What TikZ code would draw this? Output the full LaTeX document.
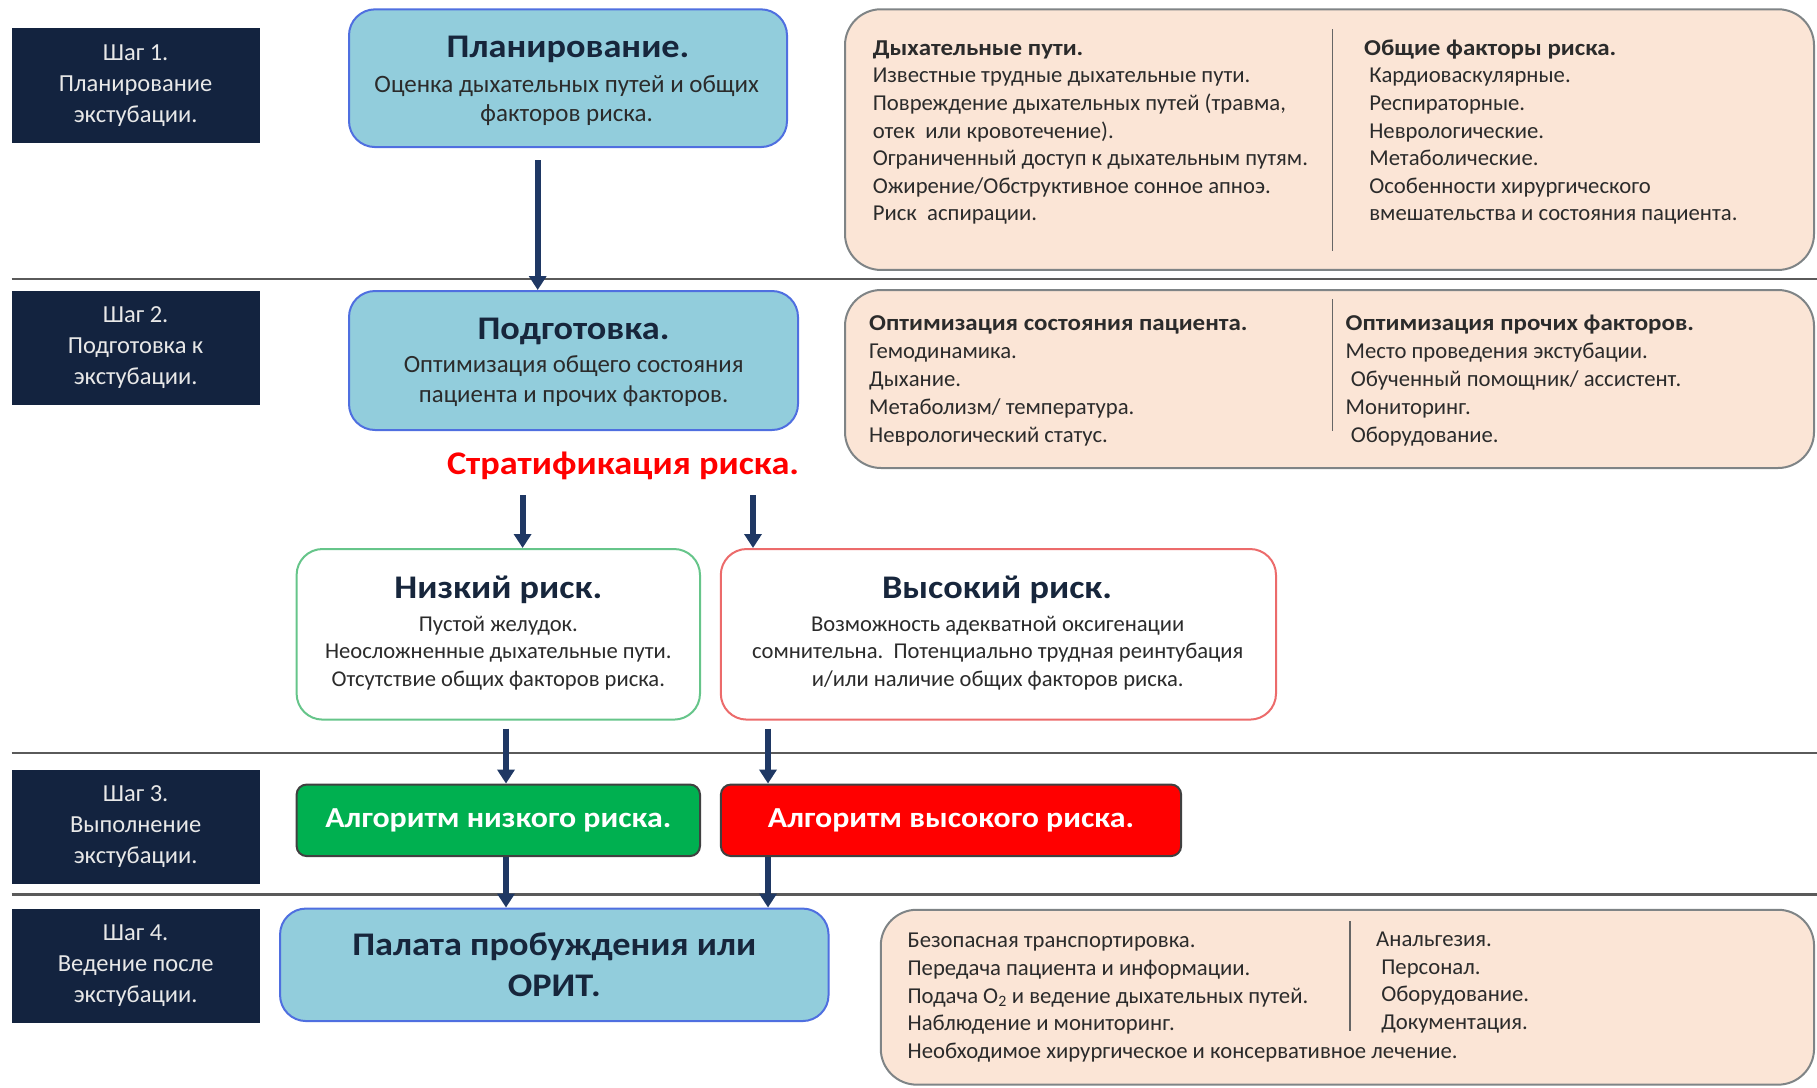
\documentclass[tikz,border=0pt]{standalone}
\usepackage{fontspec}
\setmainfont{Carlito}[BoldFeatures={FakeStretch=1.1}]
\usetikzlibrary{arrows.meta}
\definecolor{navy}{HTML}{13233F}
\definecolor{steptext}{HTML}{E8E8E8}
\definecolor{arrowc}{HTML}{1F3864}
\definecolor{bluefill}{HTML}{92CDDC}
\definecolor{blueborder}{HTML}{4F6FE0}
\definecolor{peach}{HTML}{FBE5D6}
\definecolor{peachborder}{HTML}{7F8486}
\definecolor{greenborder}{HTML}{66C58A}
\definecolor{redborder}{HTML}{EC6B6B}
\definecolor{algogreen}{HTML}{00B050}
\definecolor{algored}{HTML}{FF0000}
\definecolor{bodytext}{HTML}{2B2B2B}
\definecolor{titletext}{HTML}{17263C}
\definecolor{sepline}{HTML}{5A5A5A}
\begin{document}
\begin{tikzpicture}[x=1pt,y=-1pt,
  stepbox/.style={fill=navy, minimum width=248pt, minimum height=114.5pt, inner sep=0pt,
    text=steptext, align=center, font=\fontsize{24.5}{31}\selectfont},
  bluebox/.style={fill=bluefill, draw=blueborder, line width=2pt, rounded corners=26pt, inner sep=0pt},
  peachbox/.style={fill=peach, draw=peachborder, line width=2pt, rounded corners=36pt, inner sep=0pt},
  riskbox/.style={fill=white, line width=2pt, rounded corners=26pt, inner sep=0pt},
  algobox/.style={draw=black!75, line width=2pt, rounded corners=10pt, inner sep=0pt,
    text=white, font=\bfseries\fontsize{29}{34}\selectfont},
  bigtitle/.style={anchor=base, inner sep=0pt, text=titletext, font=\bfseries\fontsize{33}{40}\selectfont},
  subtext/.style={anchor=base, inner sep=0pt, text=bodytext, align=center},
  coltext/.style={anchor=base west, inner sep=0pt, text=bodytext, align=left},
  divline/.style={draw=black!60, line width=1.5pt},
  sepl/.style={draw=sepline, line width=2.5pt},
  arr/.style={draw=arrowc, line width=6pt, -{Triangle[width=17pt,length=14pt]}}
]
\useasboundingbox (0,0) rectangle (1817,1087);
\begin{scope}
\clip (0,0) rectangle (1817,1087);

% separator lines
\draw[sepl] (11.6,279) -- (1817,279);
\draw[sepl] (11.6,753) -- (1817,753);
\draw[sepl] (11.6,894.6) -- (1817,894.6);

% step boxes
\node[stepbox] (s1) at (135.6,85.5) {Шаг 1.\\Планирование\\экстубации.};
\node[stepbox] (s2) at (135.6,348) {Шаг 2.\\Подготовка к\\экстубации.};
\node[stepbox] (s3) at (135.6,827) {Шаг 3.\\Выполнение\\экстубации.};
\node[stepbox] (s4) at (135.6,966) {Шаг 4.\\Ведение после\\экстубации.};

% planning
\node[bluebox, minimum width=438pt, minimum height=137.7pt] (plan) at (568,78.2) {};
\node[bigtitle] (plantitle) at (568,57) {Планирование.};
\node[subtext, font=\fontsize{25}{29}\selectfont] (plansub) at (566.7,121) {Оценка дыхательных путей и общих\\факторов риска.};

% preparation
\node[bluebox, minimum width=449pt, minimum height=139pt] (prep) at (573.5,360.5) {};
\node[bigtitle] (preptitle) at (573.5,339.5) {Подготовка.};
\node[subtext, font=\fontsize{24.8}{30}\selectfont] (prepsub) at (573.6,402.2) {Оптимизация общего состояния\\пациента и прочих факторов.};

% peach box 1
\node[peachbox, minimum width=969pt, minimum height=260.7pt] (pb1) at (1329.5,139.6) {};
\draw[divline] (1332.6,29) -- (1332.6,251);
\node[coltext, font=\fontsize{22.7}{27.6}\selectfont] (pb1l) at (872.6,220.8) {\textbf{Дыхательные пути.}\\Известные трудные дыхательные пути.\\Повреждение дыхательных путей (травма,\\отек\ \ или кровотечение).\\Ограниченный доступ к дыхательным путям.\\Ожирение/Обструктивное сонное апноэ.\\Риск\ \ аспирации.};
\node[coltext, font=\fontsize{22.7}{27.6}\selectfont] (pb1r) at (1364,220.8) {\textbf{Общие факторы риска.}\\\ Кардиоваскулярные.\\\ Респираторные.\\\ Неврологические.\\\ Метаболические.\\\ Особенности хирургического\\\ вмешательства и состояния пациента.};

% peach box 2
\node[peachbox, minimum width=969pt, minimum height=178pt] (pb2) at (1329.5,379) {};
\draw[divline] (1332.6,299) -- (1332.6,431);
\node[coltext, font=\fontsize{22.7}{28}\selectfont] (pb2l) at (869,442.6) {\textbf{Оптимизация состояния пациента.}\\Гемодинамика.\\Дыхание.\\Метаболизм/ температура.\\Неврологический статус.};
\node[coltext, font=\fontsize{22.7}{28}\selectfont] (pb2r) at (1345.5,442.6) {\textbf{Оптимизация прочих факторов.}\\Место проведения экстубации.\\\ Обученный помощник/ ассистент.\\Мониторинг.\\\ Оборудование.};

% stratification
\node[anchor=base, inner sep=0pt, text depth=7pt, text=algored, font=\bfseries\fontsize{33}{38}\selectfont] (strat) at (623,474) {Стратификация риска.};

% risk boxes
\node[riskbox, draw=greenborder, minimum width=403.4pt, minimum height=170.6pt] (low) at (498.3,634.3) {};
\node[bigtitle] (lowtitle) at (498.3,598.5) {Низкий риск.};
\node[subtext, font=\fontsize{22.6}{27.5}\selectfont] (lowsub) at (498.3,686.3) {Пустой желудок.\\Неосложненные дыхательные пути.\\Отсутствие общих факторов риска.};

\node[riskbox, draw=redborder, minimum width=555.2pt, minimum height=170.6pt] (high) at (998.4,634.3) {};
\node[bigtitle] (hightitle) at (997,598.5) {Высокий риск.};
\node[subtext, font=\fontsize{22.6}{27.5}\selectfont] (highsub) at (997.7,686.3) {Возможность адекватной оксигенации\\сомнительна.\ \ Потенциально трудная реинтубация\\и/или наличие общих факторов риска.};

% algorithm boxes
\node[algobox, fill=algogreen, minimum width=403.4pt, minimum height=71.5pt] (galg) at (498.3,820.3) {\raisebox{2pt}{Алгоритм низкого риска.}\hspace{10pt}};
\node[algobox, fill=algored, minimum width=460.2pt, minimum height=71.5pt] (ralg) at (951,820.3) {\raisebox{2pt}{Алгоритм высокого риска.}};

% ward
\node[bluebox, minimum width=548.5pt, minimum height=112.5pt, text=titletext, align=center,
  font=\bfseries\fontsize{33}{41.6}\selectfont] (ward) at (554.3,964.8) {Палата пробуждения или\\ОРИТ.};

% peach box 4
\node[peachbox, minimum width=933.3pt, minimum height=174.9pt] (pb4) at (1347.4,997.2) {};
\draw[divline] (1350,921) -- (1350,1031);
\node[coltext, font=\fontsize{22.7}{27.8}\selectfont] (pb4l) at (907.4,1058.6) {Безопасная транспортировка.\\Передача пациента и информации.\\Подача O\textsubscript{2} и ведение дыхательных путей.\\Наблюдение и мониторинг.\\Необходимое хирургическое и консервативное лечение.};
\node[coltext, font=\fontsize{22.7}{27.8}\selectfont] (pb4r) at (1376,1029.6) {Анальгезия.\\\ Персонал.\\\ Оборудование.\\\ Документация.};

% arrows
\coordinate (cA) at (537.7,0);
\coordinate (cL) at (522.6,0);
\coordinate (cH) at (753,0);
\coordinate (cl) at (506,0);
\coordinate (ch) at (768,0);
\draw[arr, shorten <=12pt] (plan.south -| cA) -- (prep.north -| cA);
\draw[arr, shorten <=14pt] (strat.south -| cL) -- (low.north -| cL);
\draw[arr, shorten <=14pt] (strat.south -| cH) -- (high.north -| cH);
\draw[arr, shorten <=8pt] (low.south -| cl) -- (galg.north -| cl);
\draw[arr, shorten <=8pt] (high.south -| ch) -- (ralg.north -| ch);
\draw[arr] (galg.south -| cl) -- (ward.north -| cl);
\draw[arr] (ralg.south -| ch) -- (ward.north -| ch);
\end{scope}
\end{tikzpicture}
\end{document}
